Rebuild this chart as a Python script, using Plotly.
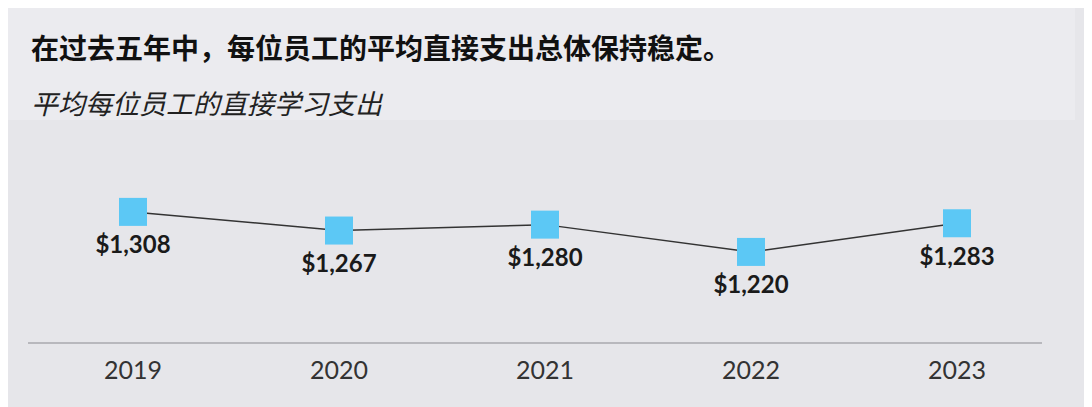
import plotly.graph_objects as go

years = ["2019", "2020", "2021", "2022", "2023"]
values = [1308, 1267, 1280, 1220, 1283]
labels = ["$1,308", "$1,267", "$1,280", "$1,220", "$1,283"]
title = "在过去五年中，每位员工的平均直接支出总体保持稳定。"
subtitle = "平均每位员工的直接学习支出"

OFF = 8  # page offset of the figure inside the browser window
W, H = 1092, 407
L, R, T, B = 28 - OFF, 1092 - 1042 + OFF, 130 - OFF, 407 - 342 + OFF
pw, ph = W - L - R, H - T - B

def px_x(x):
    return (x - OFF - L) / pw

def px_y(y):
    return (H - B - (y - OFF)) / ph

xs = list(range(len(years)))

fig = go.Figure()
fig.add_trace(go.Scatter(
    x=xs, y=values, mode="lines+markers",
    line=dict(color="#333333", width=1.5),
    marker=dict(symbol="square", size=28, color="#5cc8f5", line=dict(width=0)),
    cliponaxis=False, hoverinfo="skip",
))
fig.add_trace(go.Scatter(
    x=xs, y=values, mode="markers+text",
    marker=dict(size=36, opacity=0),
    text=labels, textposition="bottom center",
    textfont=dict(family="Lato, Noto Sans, sans-serif", size=24, color="#1a1a1a", weight="bold"),
    cliponaxis=False, hoverinfo="skip",
))

fig.add_shape(type="rect", xref="paper", yref="paper",
              x0=px_x(5), x1=px_x(1075), y0=px_y(120), y1=px_y(0),
              fillcolor="#ebebef", line=dict(width=0), layer="below")

fig.add_annotation(xref="paper", yref="paper", x=px_x(29), y=px_y(47),
                   xanchor="left", yanchor="middle", showarrow=False,
                   text="<b>" + title + "</b>",
                   font=dict(family="Noto Sans CJK SC", size=28, color="#111111"))
fig.add_annotation(xref="paper", yref="paper", x=px_x(29), y=px_y(102),
                   xanchor="left", yanchor="middle", showarrow=False,
                   text="<i>" + subtitle + "</i>",
                   font=dict(family="Noto Sans CJK SC", size=27, color="#222222"))

fig.update_layout(
    width=W, height=H,
    margin=dict(l=L, r=R, t=T, b=B, pad=0),
    paper_bgcolor="#e6e6ea", plot_bgcolor="rgba(0,0,0,0)",
    showlegend=False,
    xaxis=dict(range=[(L - (133 - OFF)) / 206, (W - R - (133 - OFF)) / 206],
               tickmode="array", tickvals=xs, ticktext=years,
               showgrid=False, zeroline=False, showline=True,
               linecolor="#b8b8bd", linewidth=2, ticks="",
               ticklabelstandoff=5,
               tickfont=dict(family="Lato, Noto Sans, sans-serif", size=25, color="#333333"),
               fixedrange=True),
    yaxis=dict(range=[1022, 1488], visible=False, fixedrange=True),
)

fig.write_html("out.html")
